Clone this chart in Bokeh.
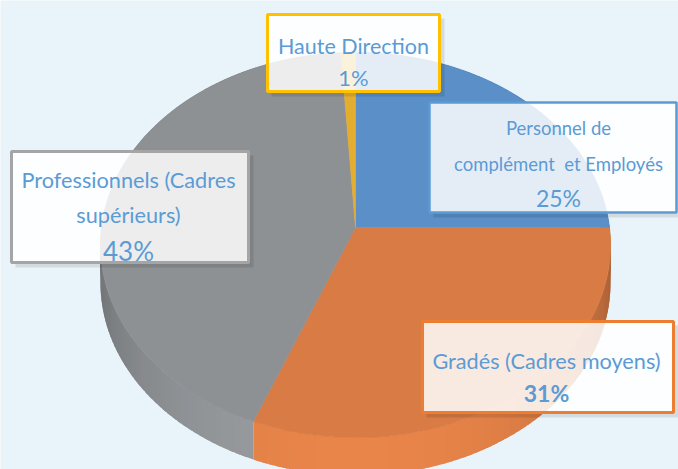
import numpy as np
from bokeh.plotting import figure
from bokeh.models import Range1d
from bokeh.core.properties import value
from bokeh.embed import file_html
from bokeh.resources import INLINE

# ---------------- data ----------------
categories = ["Personnel de complément et Employés", "Gradés (Cadres moyens)",
              "Professionnels (Cadres supérieurs)", "Haute Direction"]
values = [25, 31, 43, 1]
label_lines = [["Personnel de", "complément\u00a0 et Employés"],
               ["Gradés (Cadres moyens)"],
               ["Professionnels (Cadres", "supérieurs)"],
               ["Haute Direction"]]
pct_labels = [f"{v}%" for v in values]

# ---------------- style / layout ----------------
top_colors = ["#5B8FC7", "#D87B44", "#8E9194", "#E3AD30"]
border_colors = ["#5B9BD5", "#ED7D31", "#A5A5A5", "#FFC000"]
text_color = "#5B9BD5"
bg = "#E9F4FA"
FONT = value("Lato")

W, H = 678, 469
CX, CY = 355, 227            # projected pie centre
A, B, K = 254, 191, 0.091    # perspective ellipse parameters
DEPTH = 38                   # side wall thickness

# label boxes: left, right, top, bottom
boxes = [(429, 676, 102, 212), (422, 673, 321, 412), (11, 248, 151, 262), (267, 439, 14, 91)]
border_w = [2.5, 3, 3, 3]
label_x = [558, 546, 128, 353]
line_base = [[127, 163], [360], [179, 214], [45]]
line_size = ["18.5px", "21.7px", "21.7px", "21.5px"]
pct_base = [197, 392, 250, 77]
pct_size = ["23px", "23px", "26px", "22px"]
pct_style = ["normal", "bold", "normal", "normal"]


def proj(t, dz=0.0):
    X, D = np.sin(t), np.cos(t)
    w = 1 + K * D
    return CX + A * X / w, CY - B * D / w + dz


def shade(hexc, f):
    r, g, b = (int(hexc[i:i + 2], 16) for i in (1, 3, 5))
    c = [min(255, max(0, int(round(v * f)))) for v in (r, g, b)]
    return "#%02x%02x%02x" % tuple(c)


p = figure(width=W, height=H, x_range=Range1d(0, W), y_range=Range1d(H, 0),
           output_backend="svg", toolbar_location=None, min_border=0)
p.axis.visible = False
p.grid.visible = False
p.outline_line_color = None
p.background_fill_color = bg
p.border_fill_color = bg

fr = np.array(values, dtype=float) / sum(values)
ends = np.cumsum(fr) * 2 * np.pi
starts = ends - fr * 2 * np.pi

# side walls (overlapping strips to avoid seams)
wx, wy, wc = [], [], []
for s, e, col in zip(starts, ends, top_colors):
    n = max(2, int(np.degrees(e - s) / 1.5) + 1)
    ts = np.linspace(s, e, n)
    step = ts[1] - ts[0]
    for t0, t1 in zip(ts[:-1], ts[1:]):
        t1x = min(e, t1 + 0.8 * step)
        x0, y0 = proj(t0)
        x1, y1 = proj(t1x)
        tm = 0.5 * (t0 + t1)
        f = max(0.74, 0.74 + 0.34 * (-np.cos(tm)))
        wx.append([x0, x1, x1, x0])
        wy.append([y0, y1, y1 + DEPTH, y0 + DEPTH])
        wc.append(shade(col, f))
p.patches(wx, wy, fill_color=wc, line_color=None)

# top faces
fx, fy = [], []
for s, e in zip(starts, ends):
    n = max(3, int(np.degrees(e - s)) + 2)
    ts = np.linspace(s, e, n)
    ax, ay = proj(ts)
    fx.append([CX] + list(ax))
    fy.append([CY] + list(ay))
p.patches(fx, fy, fill_color=top_colors, line_color=top_colors, line_width=0.6)

# label boxes with light shadows
for (l, r, t, b), bc, bw in zip(boxes, border_colors, border_w):
    p.quad(left=[r + 1], right=[r + 5], top=[t + 4], bottom=[b + 5],
           fill_color="#000000", fill_alpha=0.10, line_color=None)
    p.quad(left=[l + 4], right=[r + 1], top=[b + 1], bottom=[b + 5],
           fill_color="#000000", fill_alpha=0.10, line_color=None)
    p.quad(left=[l], right=[r], top=[t], bottom=[b],
           fill_color="#FFFFFF", fill_alpha=0.84, line_color=bc, line_width=bw)

# label texts
for i in range(len(values)):
    lines = label_lines[i]
    p.text(x=[label_x[i]] * len(lines), y=line_base[i], text=lines,
           text_font=FONT, text_font_size=line_size[i], text_color=text_color,
           text_align="center", text_baseline="alphabetic")
    p.text(x=[label_x[i]], y=[pct_base[i]], text=[pct_labels[i]],
           text_font=FONT, text_font_size=pct_size[i], text_font_style=pct_style[i],
           text_color=text_color, text_align="center", text_baseline="alphabetic")

open("out.html", "w").write(file_html(p, INLINE))
